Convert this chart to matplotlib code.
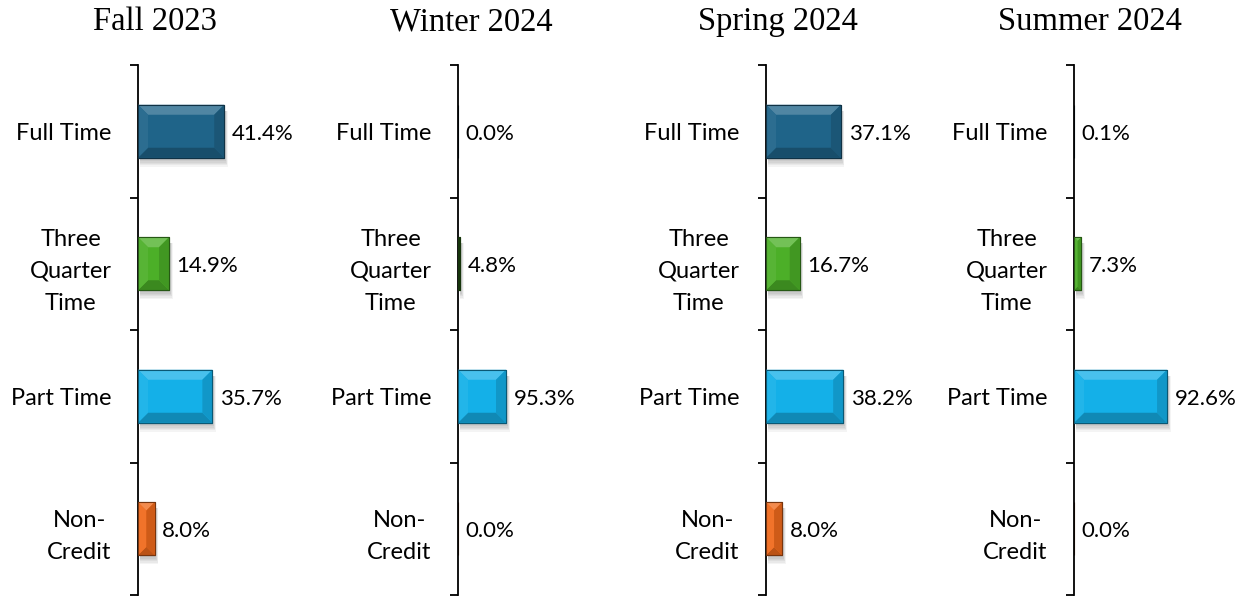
import numpy as np
import matplotlib.pyplot as plt
from matplotlib.patches import Polygon, Rectangle
from matplotlib.colors import to_rgb

# data
terms = ["Fall 2023", "Winter 2024", "Spring 2024", "Summer 2024"]
categories = ["Full Time", "Three\nQuarter\nTime", "Part Time", "Non-\nCredit"]
fall = [41.4, 14.9, 35.7, 8.0]
winter = [0.0, 4.8, 95.3, 0.0]
spring = [37.1, 16.7, 38.2, 8.0]
summer = [0.1, 7.3, 92.6, 0.0]
values = [fall, winter, spring, summer]

# each panel has its own x scale
x_max = [96, 397, 99, 199]
bar_colors = ["#1f6489", "#4caf28", "#14b0e8", "#f06a1c"]

W, H = 1245, 597
spine_x = [138, 458, 766, 1074]
panel_center = [155, 471, 778, 1090]


def mix(c, other, t):
    c = np.array(to_rgb(c))
    o = np.array(to_rgb(other))
    return tuple(c * (1 - t) + o * t)


def bevel_bar(ax, fig, rect, color):
    # draw bevel + shadow around a bar, sizes in pixels
    inv = ax.transData.inverted()
    bb = rect.get_window_extent(renderer=fig.canvas.get_renderer())
    x0, x1, y0, y1 = bb.x0, bb.x1, bb.y0, bb.y1
    w = x1 - x0
    h = y1 - y0
    if w < 0.5:
        return
    b = min(10, w / 2, h / 2)

    def to_data(pts):
        return inv.transform(np.array(pts))

    # soft shadow below
    for k in range(6):
        off = 2 + k * 1.4
        pts = [(x0 + 2, y0 - off), (x1 + 1 + k * 0.5, y0 - off),
               (x1 + 1 + k * 0.5, y1 - 6), (x0 + 2, y1 - 6)]
        ax.add_patch(Polygon(to_data(pts), closed=True, facecolor="black",
                             edgecolor="none", alpha=0.045, zorder=1))

    edge = mix(color, "black", 0.7)
    if w < 4:
        ax.add_patch(Rectangle(to_data([(x0, y0)])[0],
                               *(to_data([(x1, y1)])[0] - to_data([(x0, y0)])[0]),
                               facecolor=edge, edgecolor=edge, linewidth=0.8, zorder=4))
        return

    xi0, xi1, yi0, yi1 = x0 + b, x1 - b, y0 + b, y1 - b
    faces = [
        ([(x0, y1), (x1, y1), (xi1, yi1), (xi0, yi1)], mix(color, "white", 0.22)),  # top
        ([(x0, y0), (x1, y0), (xi1, yi0), (xi0, yi0)], mix(color, "black", 0.22)),  # bottom
        ([(x0, y0), (x0, y1), (xi0, yi1), (xi0, yi0)], mix(color, "white", 0.06)),  # left
        ([(x1, y0), (x1, y1), (xi1, yi1), (xi1, yi0)], mix(color, "black", 0.14)),  # right
    ]
    for pts, fc in faces:
        ax.add_patch(Polygon(to_data(pts), closed=True, facecolor=fc,
                             edgecolor="none", zorder=3))
    ax.add_patch(Rectangle(to_data([(x0, y0)])[0],
                           *(to_data([(x1, y1)])[0] - to_data([(x0, y0)])[0]),
                           facecolor="none", edgecolor=mix(color, "black", 0.5),
                           linewidth=0.8, zorder=4))


plt.rcParams["font.family"] = ["Lato", "DejaVu Sans"]

fig = plt.figure(figsize=(W / 100, H / 100), dpi=100)

for i, term in enumerate(terms):
    ax = fig.add_axes([spine_x[i] / W, 2 / H, 200 / W, 530 / H])
    y = np.arange(len(categories))
    bars = ax.barh(y, values[i], height=0.4, color=bar_colors, zorder=2,
                   edgecolor=[mix(c, "black", 0.5) for c in bar_colors], linewidth=0.8)
    ax.set_xlim(0, x_max[i])
    ax.set_ylim(3.5, -0.5)

    for s in ["top", "right", "bottom"]:
        ax.spines[s].set_visible(False)
    ax.spines["left"].set_linewidth(1.3)
    ax.set_xticks([])

    ax.set_yticks(np.arange(-0.5, 4, 1.0))
    ax.set_yticklabels([])
    ax.tick_params(axis="y", which="major", length=6, width=1.3)
    ax.set_yticks(y, minor=True)
    ax.set_yticklabels(categories, minor=True, fontsize=17, linespacing=1.65,
                       multialignment="center")
    ax.tick_params(axis="y", which="minor", length=0, pad=19)

    for j, v in enumerate(values[i]):
        ax.annotate(f"{v:.1f}%", xy=(v, j), xytext=(5.5, -1.8), textcoords="offset points",
                    ha="left", va="center", fontsize=16)

    fig.text(panel_center[i] / W, 1 - 22 / H, term, ha="center", va="center",
             fontsize=23.5, family="Liberation Serif")

    fig.canvas.draw()
    for r, c in zip(bars, bar_colors):
        bevel_bar(ax, fig, r, c)

fig.savefig("out.png", dpi=100)
